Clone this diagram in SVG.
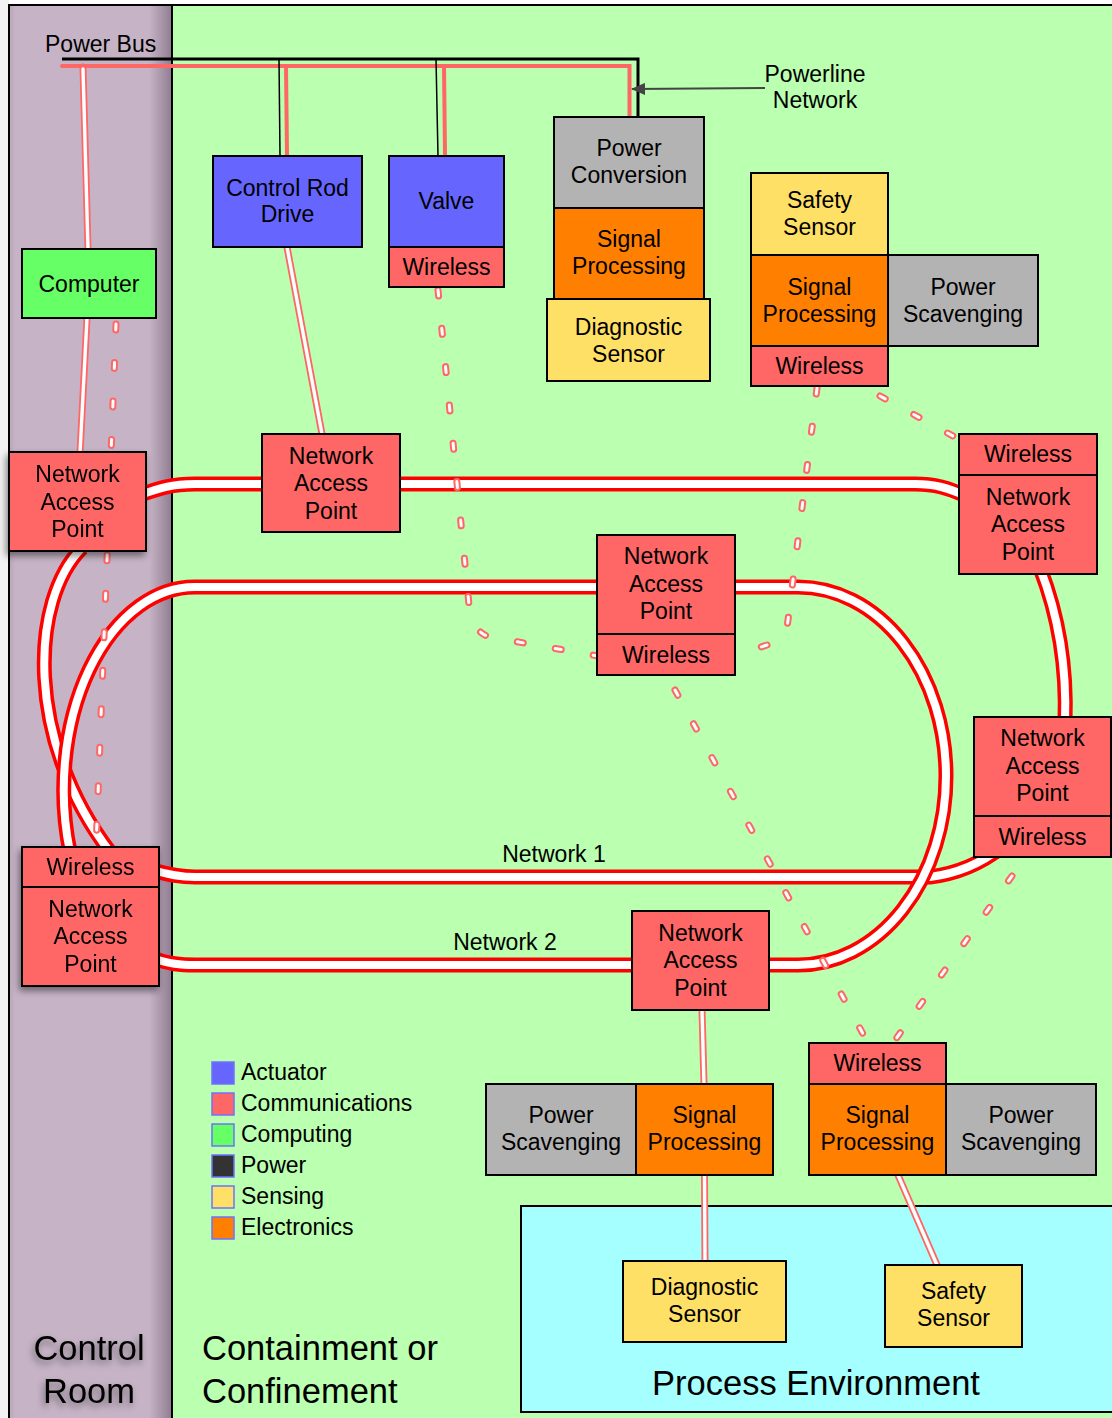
<svg xmlns="http://www.w3.org/2000/svg" width="1112" height="1418" viewBox="0 0 1112 1418">
<defs>
<style>
.t{font-family:"Liberation Sans",Arial,Helvetica,sans-serif;font-size:23px;fill:#000;text-anchor:middle}
.tl{font-family:"Liberation Sans",Arial,Helvetica,sans-serif;font-size:23px;fill:#000}
.big{font-family:"Liberation Sans",Arial,Helvetica,sans-serif;font-size:34.5px;fill:#000}
.bx{stroke:#000;stroke-width:2}
.comm{fill:#FF6666}
.act{fill:#6666FF}
.cmp{fill:#66FF66}
.pwr{fill:#B3B3B3}
.sen{fill:#FFE066}
.ele{fill:#FF8000}
.netR{fill:none;stroke:#FF0000;stroke-width:15}
.netW{fill:none;stroke:#FFFFFF;stroke-width:8}
.wireR{fill:none;stroke:#FF6666;stroke-width:7;stroke-linecap:round}
.wireW{fill:none;stroke:#FFFFFF;stroke-width:3.4;stroke-linecap:round}
.dotR{fill:none;stroke:#FF6666;stroke-width:7;stroke-linecap:round;stroke-dasharray:6 32.5}
.dotW{fill:none;stroke:#FFFFFF;stroke-width:3;stroke-linecap:round;stroke-dasharray:6 32.5}
.lg{stroke:#7070FF;stroke-width:1.5}
</style>
<linearGradient id="crg" gradientUnits="userSpaceOnUse" x1="9" y1="0" x2="172" y2="0">
<stop offset="0" stop-color="#B9A6B9"/>
<stop offset="0.04" stop-color="#C6B4C6"/>
<stop offset="0.86" stop-color="#C6B4C6"/>
<stop offset="1" stop-color="#8F7C90"/>
</linearGradient>
<filter id="sh" x="-30%" y="-30%" width="160%" height="170%">
<feDropShadow dx="-2" dy="4" stdDeviation="3.5" flood-color="#000" flood-opacity="0.45"/>
</filter>
<marker id="arr" viewBox="0 0 14 12" refX="13" refY="6" markerWidth="14" markerHeight="12" markerUnits="userSpaceOnUse" orient="auto">
<path d="M0,0 L14,6 L0,12 Z" fill="#444"/>
</marker>
</defs>

<g id="background">
<rect x="0" y="0" width="1112" height="1418" fill="#FFFFFF"/>
<rect x="0" y="0" width="9" height="1418" fill="#F2F2F2"/>
<rect x="172" y="5" width="945" height="1420" fill="#BBFFB0" stroke="#000" stroke-width="2"/>
<rect x="9" y="5" width="163" height="1420" fill="url(#crg)" stroke="#000" stroke-width="2"/>
<rect x="521" y="1206" width="595" height="206" fill="#A6FFFF" stroke="#000" stroke-width="2"/>
</g>

<g id="area-labels">
<g filter="url(#sh)">
<text class="big" x="89" y="1360" text-anchor="middle">Control</text>
<text class="big" x="89" y="1403" text-anchor="middle">Room</text>
</g>
<text class="big" x="202" y="1360">Containment or</text>
<text class="big" x="202" y="1403">Confinement</text>
<text class="big" x="816" y="1395" text-anchor="middle">Process Environment</text>
</g>

<g id="connectors">
<path d="M62 59 H638 V118" fill="none" stroke="#000" stroke-width="3"/>
<path d="M62 66 H629.5 V118" fill="none" stroke="#FF6666" stroke-width="4" stroke-linecap="round"/>
<line x1="279" y1="59" x2="280" y2="156" stroke="#000" stroke-width="1.5"/>
<line x1="286" y1="66" x2="287" y2="156" stroke="#FF6666" stroke-width="4"/>
<line x1="436" y1="59" x2="438" y2="156" stroke="#000" stroke-width="1.5"/>
<line x1="444" y1="66" x2="445" y2="156" stroke="#FF6666" stroke-width="4"/>
<line x1="765" y1="88" x2="632" y2="89" stroke="#444" stroke-width="2" marker-end="url(#arr)"/>

<g id="network1">
<path class="netR" d="M140 495 C160 488 172 484 195 484 H915 C935 484 948 488 966 496"/>
<path class="netR" d="M1040 568 Q1068 640 1065 722"/>
<path class="netR" d="M1002 847 Q970 872 930 877 H195 C180 877 170 875 152 870"/>
<path class="netR" d="M82 548 C30 600 25 740 110 852"/>
<path class="netW" d="M140 495 C160 488 172 484 195 484 H915 C935 484 948 488 966 496"/>
<path class="netW" d="M1040 568 Q1068 640 1065 722"/>
<path class="netW" d="M1002 847 Q970 872 930 877 H195 C180 877 170 875 152 870"/>
<path class="netW" d="M82 548 C30 600 25 740 110 852"/>
</g>
<g id="network2">
<path class="netR" d="M152 958 C170 964 180 965 195 965 H798 A148 189 0 0 0 946 776 A148 189 0 0 0 798 587 H196 A131 203 0 0 0 70 852"/>
<path class="netW" d="M152 958 C170 964 180 965 195 965 H798 A148 189 0 0 0 946 776 A148 189 0 0 0 798 587 H196 A131 203 0 0 0 70 852"/>
</g>

<g id="wired">
<path class="wireR" d="M83 67 L88 249"/>
<path class="wireR" d="M87 318 L80 453"/>
<path class="wireR" d="M287 247 L322 434"/>
<path class="wireR" d="M702 1010 L704 1084"/>
<path class="wireR" d="M704.5 1175 L705 1261"/>
<path class="wireR" d="M898 1175 L937 1265"/>
<path class="wireW" d="M83 69 L88 249"/>
<path class="wireW" d="M87 318 L80 453"/>
<path class="wireW" d="M287 247 L322 434"/>
<path class="wireW" d="M702 1010 L704 1084"/>
<path class="wireW" d="M704.5 1175 L705 1261"/>
<path class="wireW" d="M898 1175 L937 1265"/>
</g>

<g id="wireless">
<path class="dotR" d="M116 324 L96 847"/>
<path class="dotR" d="M438 290 L469 605 Q472 632 490 637 L598 656"/>
<path class="dotR" d="M817 388 L787 628 Q784 640 770 644 L734 656"/>
<path class="dotR" d="M880 396 L962 441"/>
<path class="dotR" d="M675 690 L868 1043"/>
<path class="dotR" d="M1012 876 L893 1043"/>
<path class="dotW" d="M116 324 L96 847"/>
<path class="dotW" d="M438 290 L469 605 Q472 632 490 637 L598 656"/>
<path class="dotW" d="M817 388 L787 628 Q784 640 770 644 L734 656"/>
<path class="dotW" d="M880 396 L962 441"/>
<path class="dotW" d="M675 690 L868 1043"/>
<path class="dotW" d="M1012 876 L893 1043"/>
</g>
</g>

<text class="tl" x="45" y="52">Power Bus</text>
<text class="t" x="815" y="82">Powerline</text>
<text class="t" x="815" y="108">Network</text>
<text class="t" x="554" y="862">Network 1</text>
<text class="t" x="505" y="950">Network 2</text>

<g id="computer">
<rect class="bx cmp" x="22" y="249" width="134" height="69"/>
<text class="t" x="89" y="291.5">Computer</text>
</g>

<g id="control-rod-drive">
<rect class="bx act" x="213" y="156" width="149" height="91"/>
<text class="t" x="287.5" y="196">Control Rod</text>
<text class="t" x="287.5" y="222">Drive</text>
</g>

<g id="valve">
<rect class="bx act" x="389" y="156" width="115" height="91"/>
<rect class="bx comm" x="389" y="247" width="115" height="40"/>
<text class="t" x="446.5" y="209">Valve</text>
<text class="t" x="446.5" y="275">Wireless</text>
</g>

<g id="sensor-unit-1">
<rect class="bx pwr" x="554" y="117" width="150" height="91"/>
<rect class="bx ele" x="554" y="208" width="150" height="91"/>
<rect class="bx sen" x="547" y="299" width="163" height="82"/>
<text class="t" x="629" y="156">Power</text>
<text class="t" x="629" y="183">Conversion</text>
<text class="t" x="629" y="247">Signal</text>
<text class="t" x="629" y="274">Processing</text>
<text class="t" x="628.5" y="334.5">Diagnostic</text>
<text class="t" x="628.5" y="361.5">Sensor</text>
</g>

<g id="sensor-unit-2">
<rect class="bx sen" x="751" y="173" width="137" height="82"/>
<rect class="bx ele" x="751" y="255" width="137" height="91"/>
<rect class="bx pwr" x="888" y="255" width="150" height="91"/>
<rect class="bx comm" x="751" y="346" width="137" height="40"/>
<text class="t" x="819.5" y="207.5">Safety</text>
<text class="t" x="819.5" y="234.5">Sensor</text>
<text class="t" x="819.5" y="294.5">Signal</text>
<text class="t" x="819.5" y="321.5">Processing</text>
<text class="t" x="963" y="294.5">Power</text>
<text class="t" x="963" y="321.5">Scavenging</text>
<text class="t" x="819.5" y="374">Wireless</text>
</g>

<g id="nap-control-top" filter="url(#sh)">
<rect class="bx comm" x="9" y="452" width="137" height="99"/>
<text class="t" x="77.5" y="482">Network</text>
<text class="t" x="77.5" y="509.5">Access</text>
<text class="t" x="77.5" y="537">Point</text>
</g>

<g id="nap-rod">
<rect class="bx comm" x="262" y="434" width="138" height="98"/>
<text class="t" x="331" y="463.5">Network</text>
<text class="t" x="331" y="491">Access</text>
<text class="t" x="331" y="518.5">Point</text>
</g>

<g id="nap-right-top">
<rect class="bx comm" x="959" y="434" width="138" height="41"/>
<rect class="bx comm" x="959" y="475" width="138" height="99"/>
<text class="t" x="1028" y="462">Wireless</text>
<text class="t" x="1028" y="504.5">Network</text>
<text class="t" x="1028" y="532">Access</text>
<text class="t" x="1028" y="559.5">Point</text>
</g>

<g id="nap-middle">
<rect class="bx comm" x="597" y="535" width="138" height="99"/>
<rect class="bx comm" x="597" y="634" width="138" height="41"/>
<text class="t" x="666" y="564">Network</text>
<text class="t" x="666" y="591.5">Access</text>
<text class="t" x="666" y="619">Point</text>
<text class="t" x="666" y="662.5">Wireless</text>
</g>

<g id="nap-right-mid">
<rect class="bx comm" x="974" y="717" width="137" height="99"/>
<rect class="bx comm" x="974" y="816" width="137" height="41"/>
<text class="t" x="1042.5" y="746">Network</text>
<text class="t" x="1042.5" y="773.5">Access</text>
<text class="t" x="1042.5" y="801">Point</text>
<text class="t" x="1042.5" y="844.5">Wireless</text>
</g>

<g id="nap-control-bottom" filter="url(#sh)">
<rect class="bx comm" x="22" y="847" width="137" height="40"/>
<rect class="bx comm" x="22" y="887" width="137" height="99"/>
<text class="t" x="90.5" y="875">Wireless</text>
<text class="t" x="90.5" y="916.5">Network</text>
<text class="t" x="90.5" y="944">Access</text>
<text class="t" x="90.5" y="971.5">Point</text>
</g>

<g id="nap-bottom">
<rect class="bx comm" x="632" y="911" width="137" height="99"/>
<text class="t" x="700.5" y="940.5">Network</text>
<text class="t" x="700.5" y="968">Access</text>
<text class="t" x="700.5" y="995.5">Point</text>
</g>

<g id="sensor-unit-3">
<rect class="bx pwr" x="486" y="1084" width="150" height="91"/>
<rect class="bx ele" x="636" y="1084" width="137" height="91"/>
<text class="t" x="561" y="1123">Power</text>
<text class="t" x="561" y="1150">Scavenging</text>
<text class="t" x="704.5" y="1123">Signal</text>
<text class="t" x="704.5" y="1150">Processing</text>
</g>

<g id="sensor-unit-4">
<rect class="bx comm" x="809" y="1043" width="137" height="41"/>
<rect class="bx ele" x="809" y="1084" width="137" height="91"/>
<rect class="bx pwr" x="946" y="1084" width="150" height="91"/>
<text class="t" x="877.5" y="1071">Wireless</text>
<text class="t" x="877.5" y="1123">Signal</text>
<text class="t" x="877.5" y="1150">Processing</text>
<text class="t" x="1021" y="1123">Power</text>
<text class="t" x="1021" y="1150">Scavenging</text>
</g>

<g id="diagnostic-sensor-2">
<rect class="bx sen" x="623" y="1261" width="163" height="81"/>
<text class="t" x="704.5" y="1295">Diagnostic</text>
<text class="t" x="704.5" y="1322">Sensor</text>
</g>

<g id="safety-sensor-2">
<rect class="bx sen" x="885" y="1265" width="137" height="82"/>
<text class="t" x="953.5" y="1299">Safety</text>
<text class="t" x="953.5" y="1326">Sensor</text>
</g>

<g id="legend">
<rect class="lg act" x="212" y="1062" width="22" height="22"/>
<rect class="lg comm" x="212" y="1093" width="22" height="22"/>
<rect class="lg cmp" x="212" y="1124" width="22" height="22"/>
<rect class="lg" x="212" y="1155" width="22" height="22" fill="#333333"/>
<rect class="lg sen" x="212" y="1186" width="22" height="22"/>
<rect class="lg ele" x="212" y="1217" width="22" height="22"/>
<text class="tl" x="241" y="1080">Actuator</text>
<text class="tl" x="241" y="1111">Communications</text>
<text class="tl" x="241" y="1142">Computing</text>
<text class="tl" x="241" y="1173">Power</text>
<text class="tl" x="241" y="1204">Sensing</text>
<text class="tl" x="241" y="1235">Electronics</text>
</g>
</svg>
